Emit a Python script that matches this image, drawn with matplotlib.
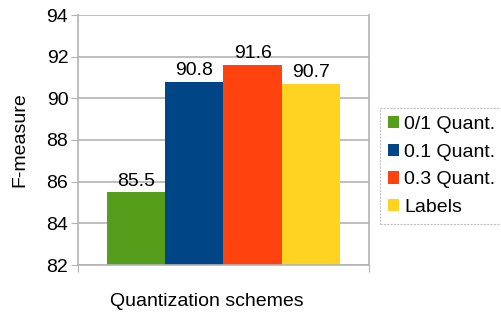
import matplotlib
matplotlib.use("Agg")
import matplotlib.pyplot as plt
import numpy as np

plt.rcParams['font.family'] = ['Liberation Sans', 'DejaVu Sans']

series = ["0/1 Quant.", "0.1 Quant.", "0.3 Quant.", "Labels"]
values = [85.5, 90.8, 91.6, 90.7]
colors = ["#579d1c", "#004586", "#ff420e", "#ffd320"]
yticks = [82, 84, 86, 88, 90, 92, 94]

fig = plt.figure(figsize=(5.02, 3.13), dpi=100)
ax = fig.add_axes([78 / 502, 1 - 265 / 313, 291 / 502, 250 / 313])

w = 0.2
x = np.arange(len(values)) * w - 0.3
bars = []
for xi, v, c, s in zip(x, values, colors, series):
    b = ax.bar(xi, v - 82, bottom=82, width=w, color=c, label=s, zorder=2)
    bars.append(b)
    ax.text(xi, v + 0.12, f"{v}", ha="center", va="bottom", fontsize=14)

ax.set_xlim(-0.5, 0.5)
ax.set_ylim(82, 94)
ax.set_yticks(yticks)
ax.tick_params(axis="y", labelsize=14, length=5, color="#b3b3b3", pad=2)
ax.set_xticks([-0.5, 0.5])
ax.set_xticklabels([])
ax.tick_params(axis="x", length=5, color="#b3b3b3")
ax.yaxis.grid(True, color="#b3b3b3", linewidth=1.2, zorder=0)
ax.set_axisbelow(True)
for side in ["left", "right", "bottom"]:
    ax.spines[side].set_color("#b3b3b3")
    ax.spines[side].set_linewidth(1.2)
ax.spines["top"].set_visible(False)

ax.set_ylabel("F-measure", fontsize=14)
ax.yaxis.set_label_coords(-0.17, 0.5)
ax.set_xlabel("Quantization schemes", fontsize=14)
ax.xaxis.set_label_coords(0.443, -0.11)

leg = fig.legend(handles=[b for b in bars], labels=series, loc="upper left",
                 bbox_to_anchor=(380 / 502, 1 - 108 / 313), fontsize=14,
                 frameon=True, fancybox=False, handlelength=0.6, handleheight=0.6,
                 handletextpad=0.25, borderpad=0.4, labelspacing=0.55, borderaxespad=0)
leg.get_frame().set_edgecolor("#b3b3b3")
leg.get_frame().set_linestyle((0, (2, 1)))
leg.get_frame().set_linewidth(0.8)

fig.savefig("out.png", dpi=100)
